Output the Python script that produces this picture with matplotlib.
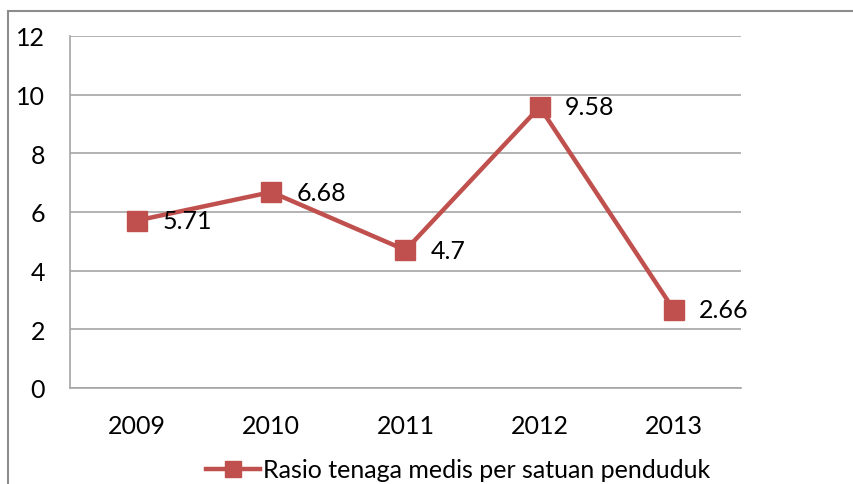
from matplotlib import pyplot as plt
from matplotlib.patches import Rectangle
from matplotlib.lines import Line2D

years = ['2009', '2010', '2011', '2012', '2013']
rasio = [5.71, 6.68, 4.7, 9.58, 2.66]
labels = ['5.71', '6.68', '4.7', '9.58', '2.66']
series_name = 'Rasio tenaga medis per satuan penduduk'

RED = '#C0504D'
GRID = '#A6A6A6'

plt.rcParams['font.family'] = ['Lato', 'DejaVu Sans']

W, H = 854, 485
fig = plt.figure(figsize=(W / 100, H / 100), dpi=100)

# outer chart border (only left and top visible in the crop)
fig.patches.append(Rectangle((8 / W, -0.1), 1.2, (H - 12) / H + 0.1,
                             transform=fig.transFigure, fill=False,
                             edgecolor='#8C8C8C', lw=1.5))

ax = fig.add_axes([70 / W, 1 - 389 / H, (741 - 70) / W, (389 - 37) / H])
x = range(len(years))
ax.plot(x, rasio, color=RED, lw=3.2, marker='s', markersize=14,
        markerfacecolor=RED, markeredgecolor=RED)
for xi, v, t in zip(x, rasio, labels):
    ax.annotate(t, (xi, v), xytext=(18, 0), textcoords='offset points',
                va='center', ha='left', fontsize=18, color='black')

ax.set_xlim(-0.5, len(years) - 0.5)
ax.set_ylim(0, 12)
ax.set_yticks(range(0, 13, 2))
ax.set_xticks(list(x))
ax.set_xticklabels(years)
ax.tick_params(axis='both', length=0, labelsize=18)
ax.tick_params(axis='x', pad=19)
ax.tick_params(axis='y', pad=18)
ax.grid(axis='y', color=GRID, lw=1.2)
ax.set_axisbelow(True)
for s in ['top', 'right']:
    ax.spines[s].set_visible(False)
ax.spines['left'].set_color(GRID)
ax.spines['bottom'].set_color(GRID)
ax.spines['left'].set_linewidth(1.2)
ax.spines['bottom'].set_linewidth(1.2)

handle = Line2D([], [], color=RED, lw=3.2, marker='s', markersize=12)
fig.legend([handle], [series_name], loc='center', bbox_to_anchor=(458 / W, 1 - 471 / H),
           frameon=False, fontsize=18, handlelength=2.16, handletextpad=0.12)

fig.savefig('out.png', dpi=100)
